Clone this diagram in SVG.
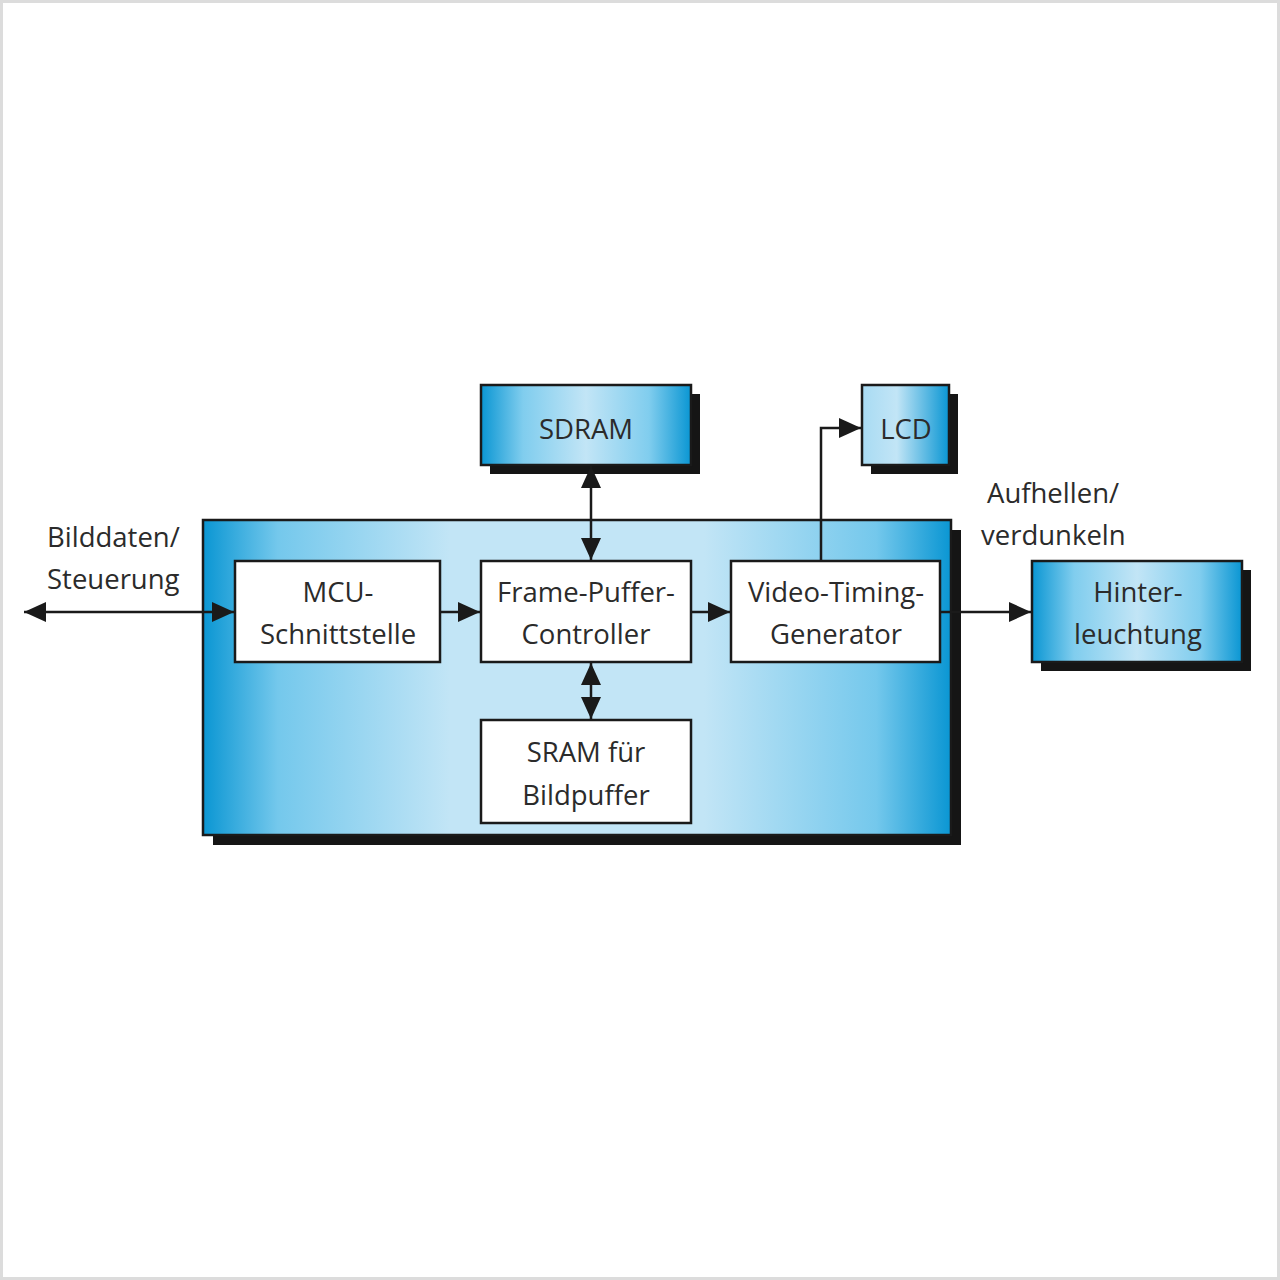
<svg xmlns="http://www.w3.org/2000/svg" width="1280" height="1280" viewBox="0 0 1280 1280">
<defs>
<linearGradient id="gMain" x1="0" y1="0" x2="1" y2="0">
<stop offset="0" stop-color="#0a96d3"/>
<stop offset="0.1" stop-color="#74c8ec"/>
<stop offset="0.33" stop-color="#c2e5f6"/>
<stop offset="0.67" stop-color="#c2e5f6"/>
<stop offset="0.9" stop-color="#74c8ec"/>
<stop offset="1" stop-color="#0a96d3"/>
</linearGradient>
<linearGradient id="gBox" x1="0" y1="0" x2="1" y2="0">
<stop offset="0" stop-color="#0a96d3"/>
<stop offset="0.2" stop-color="#80cdee"/>
<stop offset="0.5" stop-color="#c2e5f6"/>
<stop offset="0.8" stop-color="#80cdee"/>
<stop offset="1" stop-color="#0a96d3"/>
</linearGradient>
<linearGradient id="gLcd" x1="0" y1="0" x2="1" y2="0">
<stop offset="0" stop-color="#a8dbf3"/>
<stop offset="0.4" stop-color="#c2e5f6"/>
<stop offset="1" stop-color="#0a96d3"/>
</linearGradient>
<marker id="ahb" viewBox="0 0 22 20" refX="22" refY="10" markerWidth="22" markerHeight="20" markerUnits="userSpaceOnUse" orient="auto-start-reverse">
<path d="M0,0 L22,10 L0,20 z" fill="#1a1a1a"/>
</marker>
</defs>
<style>
.shadow{fill:#151515}
.blk{stroke:#1a1a1a;stroke-width:2.5}
.white{fill:#ffffff;stroke:#1a1a1a;stroke-width:2.5}
.t{font-family:"Open Sans","Noto Sans","Liberation Sans",sans-serif;font-size:27.5px;fill:#2b2b2b;text-anchor:middle}
.tl{font-family:"Open Sans","Noto Sans","Liberation Sans",sans-serif;font-size:27.5px;fill:#2b2b2b}
.c{fill:none;stroke:#1a1a1a;stroke-width:2.5}
</style>
<rect x="1.5" y="1.5" width="1277" height="1277" fill="#ffffff" stroke="#dcdcdc" stroke-width="3"/>

<g id="main">
<rect class="shadow" x="213" y="530" width="748" height="315"/>
<rect x="203" y="520" width="748" height="315" fill="url(#gMain)" class="blk"/>
</g>

<g id="sdram">
<rect class="shadow" x="490" y="394" width="210" height="80"/>
<rect x="481" y="385" width="210" height="80" fill="url(#gBox)" class="blk"/>
<text class="t" x="586" y="439">SDRAM</text>
</g>

<g id="lcd">
<rect class="shadow" x="871" y="394" width="87" height="80"/>
<rect x="862" y="385" width="87" height="80" fill="url(#gLcd)" class="blk"/>
<text class="t" x="906" y="439">LCD</text>
</g>

<g id="hinter">
<rect class="shadow" x="1041" y="570" width="210" height="101"/>
<rect x="1032" y="561" width="210" height="101" fill="url(#gBox)" class="blk"/>
<text class="t" x="1138" y="602">Hinter-</text>
<text class="t" x="1138" y="644">leuchtung</text>
</g>

<g id="mcu">
<rect class="white" x="235" y="561" width="205" height="101"/>
<text class="t" x="338" y="602">MCU-</text>
<text class="t" x="338" y="644">Schnittstelle</text>
</g>

<g id="fpc">
<rect class="white" x="481" y="561" width="210" height="101"/>
<text class="t" x="586" y="602">Frame-Puffer-</text>
<text class="t" x="586" y="644">Controller</text>
</g>

<g id="vtg">
<rect class="white" x="731" y="561" width="209" height="101"/>
<text class="t" x="836" y="602">Video-Timing-</text>
<text class="t" x="836" y="644">Generator</text>
</g>

<g id="sram">
<rect class="white" x="481" y="720" width="210" height="103"/>
<text class="t" x="586" y="762">SRAM für</text>
<text class="t" x="586" y="805">Bildpuffer</text>
</g>

<g id="labels">
<text class="tl" x="47" y="547">Bilddaten/</text>
<text class="tl" x="47" y="589">Steuerung</text>
<text class="tl" x="987" y="503">Aufhellen/</text>
<text class="tl" x="981" y="545">verdunkeln</text>
</g>

<g id="connectors">
<line class="c" x1="24" y1="612" x2="234" y2="612" marker-start="url(#ahb)" marker-end="url(#ahb)"/>
<line class="c" x1="440" y1="612" x2="480" y2="612" marker-end="url(#ahb)"/>
<line class="c" x1="691" y1="612" x2="730" y2="612" marker-end="url(#ahb)"/>
<line class="c" x1="940" y1="612" x2="1031" y2="612" marker-end="url(#ahb)"/>
<line class="c" x1="591" y1="466" x2="591" y2="560" marker-start="url(#ahb)" marker-end="url(#ahb)"/>
<line class="c" x1="591" y1="663" x2="591" y2="719" marker-start="url(#ahb)" marker-end="url(#ahb)"/>
<polyline class="c" points="821,561 821,428 861,428" marker-end="url(#ahb)"/>
</g>
</svg>
